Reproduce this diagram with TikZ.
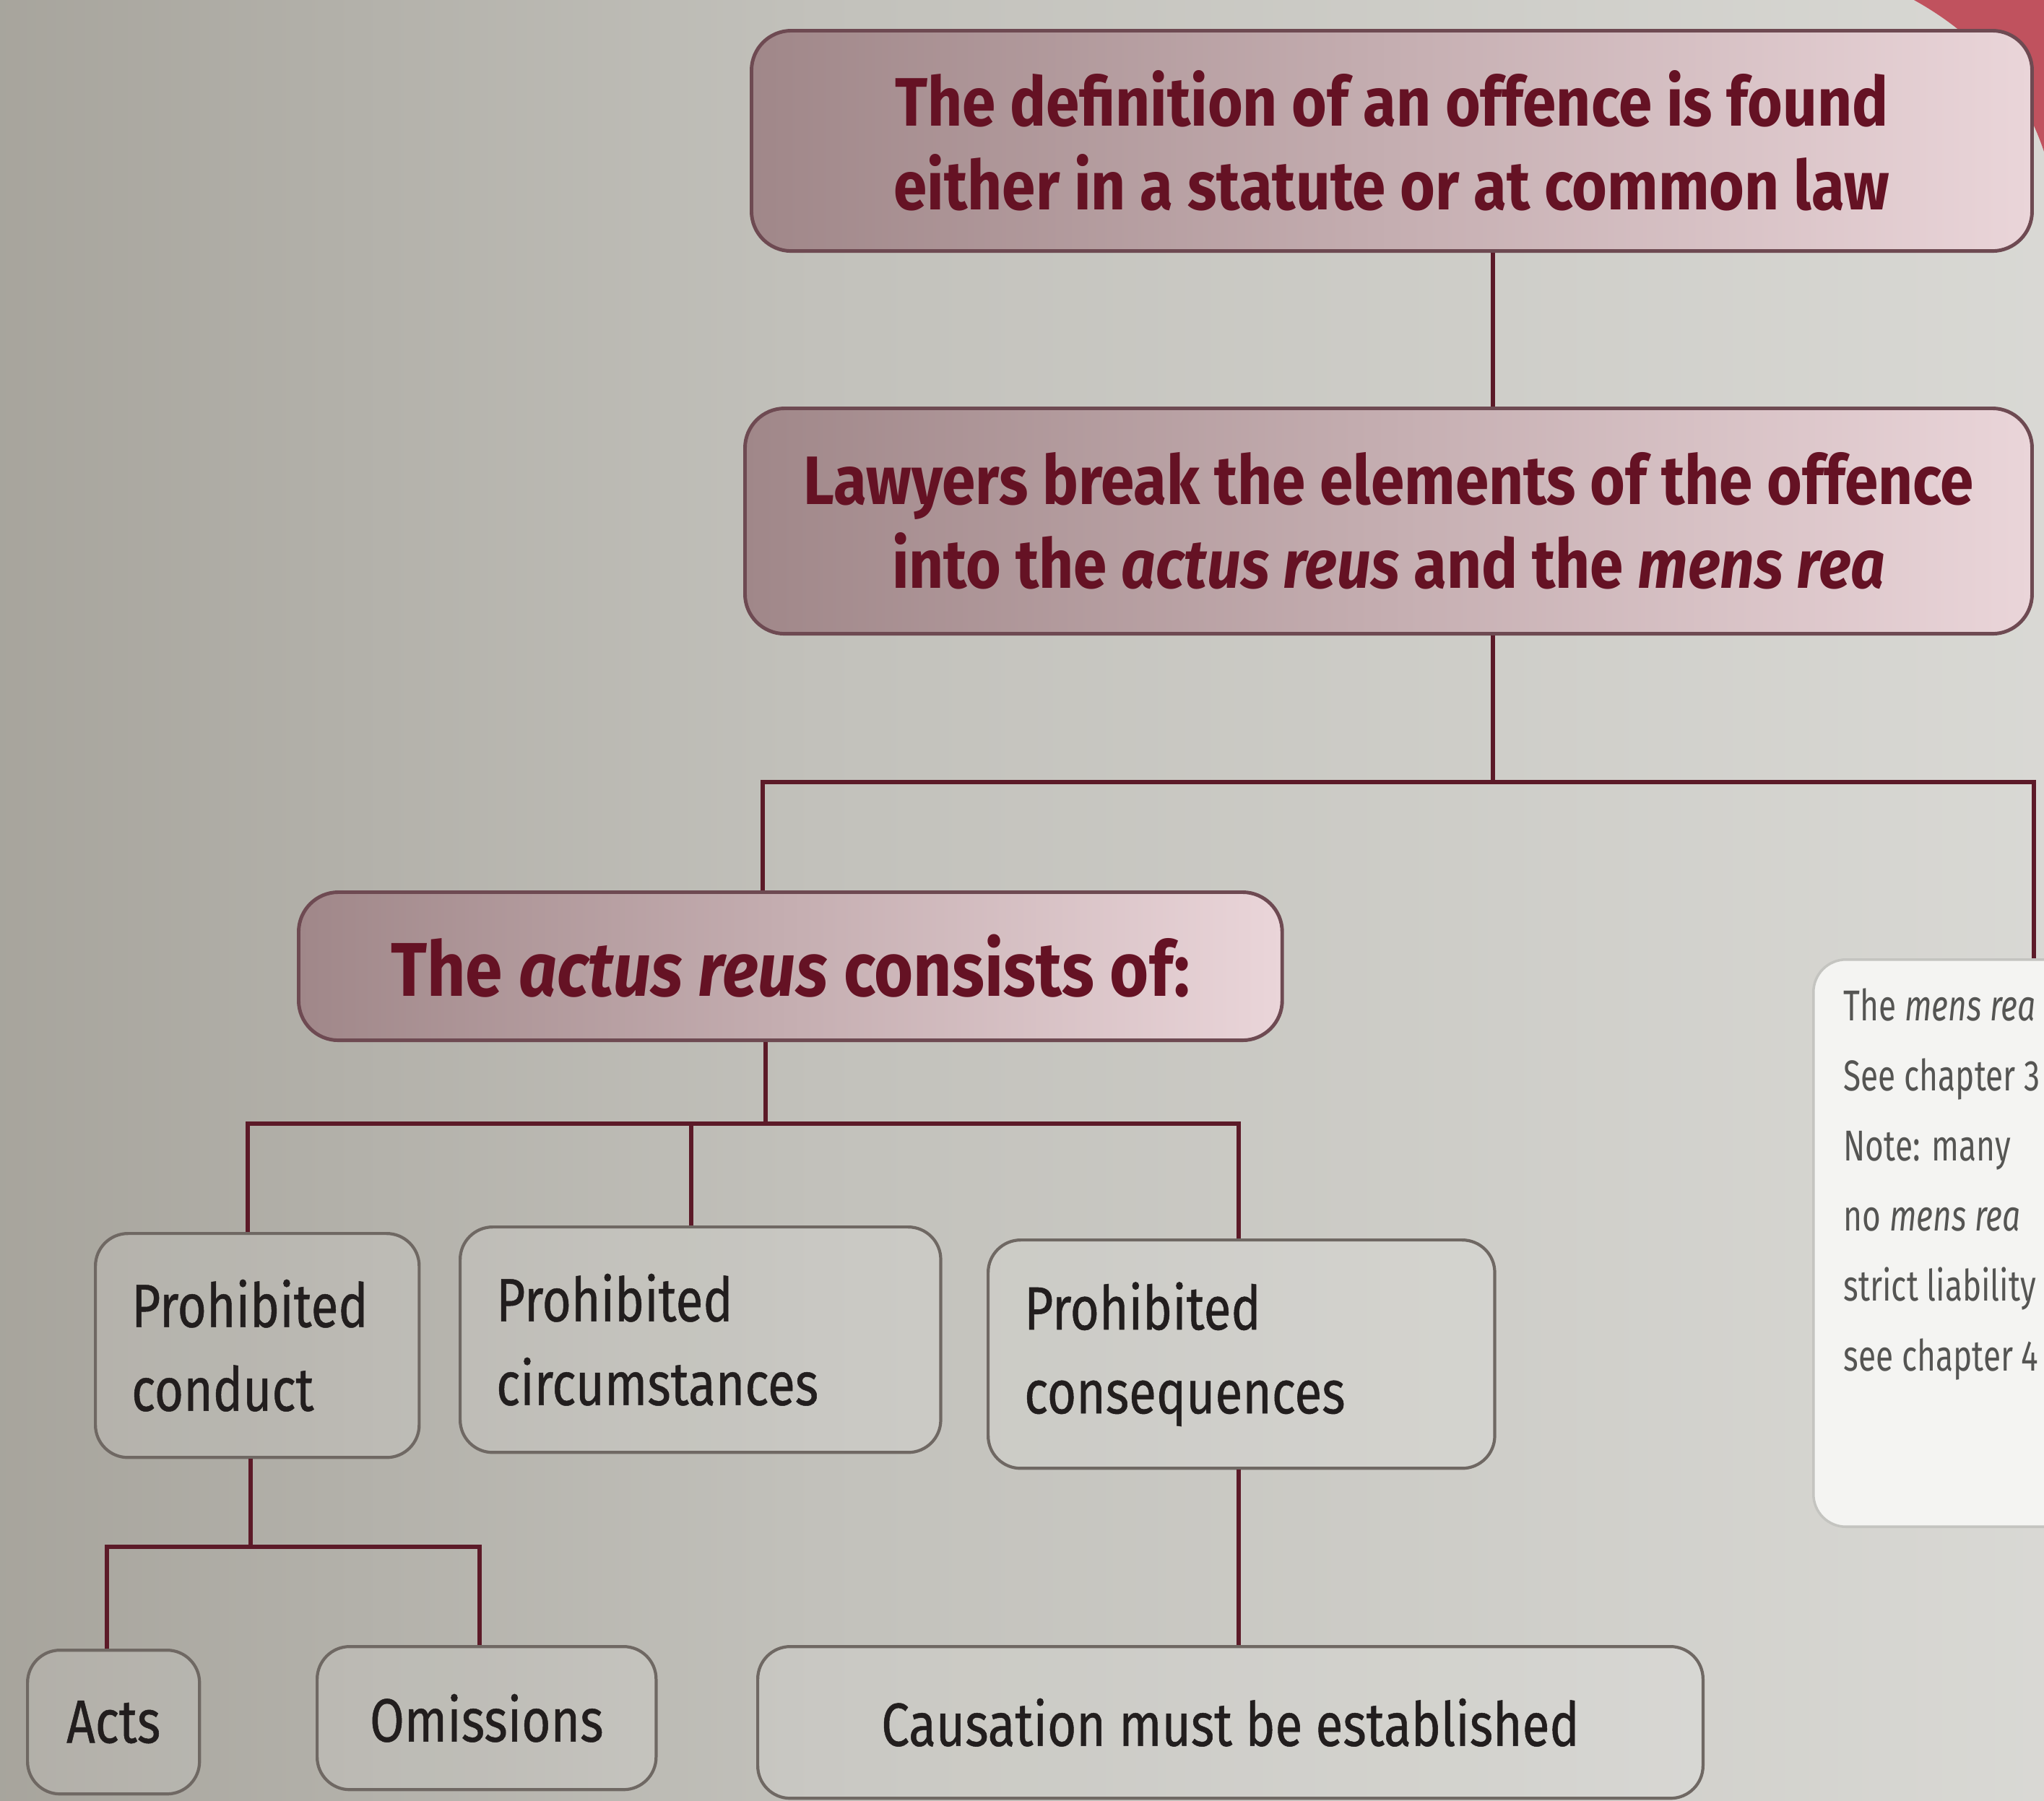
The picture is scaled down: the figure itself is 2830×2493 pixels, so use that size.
\documentclass[tikz,border=0pt]{standalone}
\usepackage{fontspec}
\setmainfont{Fira Sans}
\newfontfamily\bandfont{Fira Sans}[FakeStretch=0.88]
\newfontfamily\cfont{Fira Sans}[FakeStretch=0.82, FakeBold=0.6]
\newfontfamily\nfont{Fira Sans}[FakeStretch=0.74]
\usetikzlibrary{calc}
\definecolor{bgL}{HTML}{868177}
\definecolor{bgM}{HTML}{C2C1BB}
\definecolor{bgR}{HTML}{ECECE9}
\definecolor{bandL}{HTML}{A08789}
\definecolor{bandR}{HTML}{EAD5D9}
\definecolor{bandline}{HTML}{6E4A52}
\definecolor{maroon}{HTML}{651224}
\definecolor{conncol}{HTML}{5C1A28}
\definecolor{boxline}{HTML}{6F6863}
\definecolor{inkcol}{HTML}{221E1E}
\definecolor{tabred}{HTML}{C0525E}
\definecolor{notefill}{HTML}{F4F4F2}
\definecolor{noteline}{HTML}{C4C4C0}
\definecolor{notetext}{HTML}{555553}
\pgfdeclarehorizontalshading{paper}{100bp}{color(0bp)=(bgL); color(45bp)=(bgM); color(100bp)=(bgR)}
\tikzset{
  band/.style={draw=bandline, line width=1.4pt, rounded corners=0.55cm,
    left color=bandL, right color=bandR, text=maroon, font=\bandfont\bfseries\fontsize{27}{33}\selectfont,
    align=center, anchor=north west, inner sep=0pt},
  lowbox/.style={draw=boxline, line width=1.2pt, rounded corners=0.45cm,
    fill=white, fill opacity=0.12, text opacity=1, text=inkcol,
    font=\cfont\fontsize{24}{33}\selectfont, anchor=north west, inner xsep=0.5cm, inner ysep=0pt},
  notebox/.style={draw=noteline, line width=1pt, rounded corners=0.45cm, fill=notefill,
    anchor=north west, inner sep=0pt},
  notetxt/.style={text=notetext, font=\nfont\fontsize{17}{27.6}\selectfont, anchor=north west, align=left,
    inner sep=0pt},
  conn/.style={draw=conncol, line width=1.6pt}
}
\begin{document}
\begin{tikzpicture}[x=0.01cm, y=-0.01cm]
\useasboundingbox (0,0) rectangle (2830,2493);
\shade[shading=paper] (0,0) rectangle (2830,2493);
\fill[tabred] (2650,0) .. controls (2740,50) and (2800,120) .. (2830,210) -- (2830,0) -- cycle;

% top bands
\node[band, minimum width=17.72cm, minimum height=3.05cm] (n1) at (1038,40)
  {The definition of an offence is found\\either in a statute or at common law};
\node[band, minimum width=17.81cm, minimum height=3.12cm] (n2) at (1029,563)
  {Lawyers break the elements of the offence\\into the \textit{actus reus} and the \textit{mens rea}};
\node[band, minimum width=13.61cm, minimum height=2.05cm, font=\bandfont\bfseries\fontsize{30}{36}\selectfont] (n3) at (411,1233)
  {The \textit{actus reus} consists of:};

% mens rea note (runs off the right edge)
\begin{scope}
\clip (0,0) rectangle (2830,2493);
\node[notebox, minimum width=6cm, minimum height=7.85cm] (m) at (2509,1327) {};
\end{scope}
\node[notetxt] (mt) at (2552,1368)
  {The \textit{mens rea}\\See chapter 3\\Note: many\\no \textit{mens rea}\\strict liability\\see chapter 4};

% second level
\node[lowbox, text width=3.48cm, minimum height=3.1cm, align=left] (c1) at (130,1706) {Prohibited\\conduct};
\node[lowbox, text width=5.65cm, minimum height=3.12cm, align=left] (c2) at (635,1697) {Prohibited\\circumstances};
\node[lowbox, text width=6.01cm, minimum height=3.16cm, align=left] (c3) at (1366,1715) {Prohibited\\consequences};

% third level
\node[lowbox, inner xsep=0pt, minimum width=2.38cm, minimum height=1.99cm, align=center] (a1) at (36,2283) {Acts};
\node[lowbox, inner xsep=0pt, minimum width=4.69cm, minimum height=1.98cm, align=center] (a2) at (437,2278) {Omissions};
\node[lowbox, inner xsep=0pt, minimum width=13.08cm, minimum height=2.1cm, align=center] (a3) at (1047,2278) {Causation must be established};

% connectors
\coordinate (t1) at (2067,0);
\coordinate (b1) at (2067,1083);
\coordinate (b1L) at (1056,1083);
\coordinate (b1R) at (2816,1083);
\draw[conn] (n1.south -| t1) -- (n2.north -| t1);
\draw[conn] (n2.south -| b1) -- (b1);
\draw[conn] (n3.north -| b1L) -- (b1L) -- (b1R) -- (m.north -| b1R);

\coordinate (b2) at (1060,1556);
\coordinate (b2L) at (343,1556);
\coordinate (b2M) at (957,1556);
\coordinate (b2R) at (1715,1556);
\draw[conn] (n3.south -| b2) -- (b2);
\draw[conn] (c1.north -| b2L) -- (b2L) -- (b2R) -- (c3.north -| b2R);
\draw[conn] (b2M) -- (c2.north -| b2M);

\coordinate (b3) at (347,2142);
\coordinate (b3L) at (148,2142);
\coordinate (b3R) at (664,2142);
\draw[conn] (c1.south -| b3) -- (b3);
\draw[conn] (a1.north -| b3L) -- (b3L) -- (b3R) -- (a2.north -| b3R);
\draw[conn] (c3.south -| b2R) -- (a3.north -| b2R);
\end{tikzpicture}
\end{document}
